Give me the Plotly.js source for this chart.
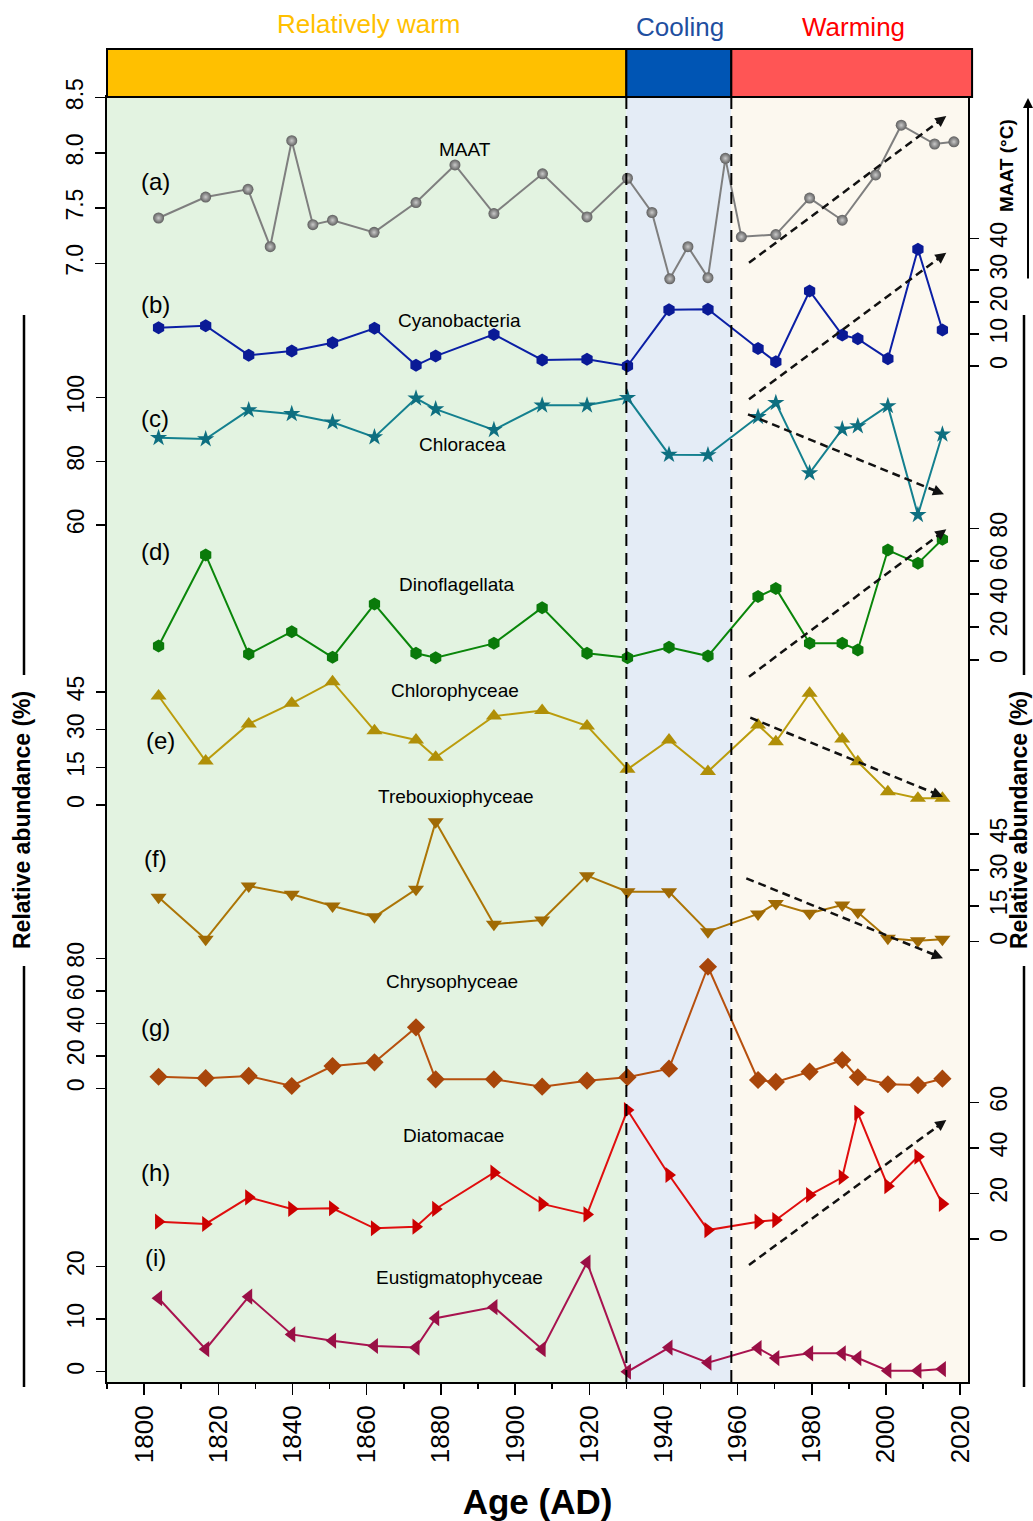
<!DOCTYPE html>
<html>
<head>
<meta charset="utf-8">
<script src="https://cdn.plot.ly/plotly-3.0.1.min.js"></script>
<style>html,body{margin:0;padding:0;background:#fff;}#chart{width:1033px;height:1521px;}</style>
</head>
<body>
<div id="chart"></div>
<script>
// ---------------- DATA ----------------
const periodNames = ['Relatively warm', 'Cooling', 'Warming'];
const periodBounds = [1790, 1930, 1958.3, 2023.2];

const maatYears = [1803.9,1816.6,1828.0,1834.0,1839.8,1845.5,1850.8,1862.0,1873.3,1883.8,1894.3,1907.4,1919.4,1930.3,1936.9,1941.7,1946.6,1952.0,1956.7,1961.0,1970.3,1979.4,1988.2,1997.2,2004.1,2013.1,2018.3];
const maat = [7.41,7.60,7.67,7.15,8.11,7.35,7.39,7.28,7.55,7.89,7.45,7.81,7.42,7.77,7.46,6.86,7.15,6.87,7.95,7.24,7.26,7.59,7.39,7.80,8.25,8.08,8.10];

const sampleYears = [1803.9,1816.6,1828.2,1839.8,1850.8,1862.1,1873.3,1878.6,1894.3,1907.3,1919.4,1930.3,1941.5,1952.0,1965.5,1970.3,1979.4,1988.2,1992.4,2000.5,2008.6,2015.2];
const cyanobacteria = [12.0,12.6,3.4,4.7,7.3,11.8,0.2,3.1,9.9,1.9,2.1,0.0,17.6,17.8,5.5,1.3,23.5,9.7,8.5,2.3,36.6,11.3];
const chloracea = [87.4,87.0,96.1,94.9,92.3,87.6,99.8,96.4,89.9,97.6,97.6,100,82.1,82.0,94.0,98.4,76.3,90.1,91.1,97.4,63.2,88.5];
const dinoflagellata = [8.5,63.8,3.6,17.2,1.6,34.0,4.1,1.4,10.1,31.8,4.1,1.4,7.7,2.4,38.5,43.5,10.1,10.1,6.1,66.8,58.7,73.3];
const chlorophyceae = [43.4,17.5,32.3,40.5,49.1,29.6,25.9,19.0,35.4,37.6,31.5,14.2,25.9,13.3,31.9,25.2,44.5,26.3,17.2,5.3,2.7,2.7];
const trebouxiophyceae = [18.6,1.0,23.3,19.8,14.9,10.4,21.9,50.1,7.3,9.1,27.6,20.9,20.9,4.2,11.6,16.0,11.9,15.3,12.3,1.4,0.4,1.0];
const chrysophyceae = [7.1,6.2,7.6,1.4,13.7,16.0,37.5,5.5,5.5,1.0,4.7,6.8,12.1,74.8,5.1,3.9,10.2,17.4,6.8,2.5,2.0,5.9];
const diatomacae = [7.6,6.6,18.3,13.2,13.5,4.7,5.4,13.2,29.1,15.4,10.8,56.6,28.1,3.9,7.6,8.3,19.3,27.1,55.4,23.2,36.1,15.4];
const eustigmatophyceae = [14.0,4.3,14.3,7.1,5.9,4.9,4.6,10.2,12.3,4.3,20.8,0.0,4.6,1.7,4.5,2.6,3.5,3.5,2.6,0.2,0.2,0.5];

const maatTicks = [7.0,7.5,8.0,8.5];
const maatTickText = ['7.0','7.5','8.0','8.5'];
const cyanoTicks = [0,10,20,30,40];
const chloraceaTicks = [60,80,100];
const dinoTicks = [0,20,40,60,80];
const chloroTicks = [0,15,30,45];
const trebouxTicks = [0,15,30,45];
const chrysoTicks = [0,20,40,60,80];
const diatomTicks = [0,20,40,60];
const eustigTicks = [0,10,20];
const xTickYears = [1800,1820,1840,1860,1880,1900,1920,1940,1960,1980,2000,2020];

// ---------------- GEOMETRY ----------------
const L = 107, R = 968, T = 97, B = 1382;
const xRange = [1790, 2022.1];
const FONT = 'Arial, "Liberation Sans", sans-serif';
function xp(px){ return (px - L) / (R - L); }
function yp(py){ return (B - py) / (B - T); }
function axisRange(v1, p1, v2, p2){
  const s = (v2 - v1) / (p2 - p1);
  return [v1 + (B - p1) * s, v1 + (T - p1) * s];
}

const axisSpecs = [
  {id:'y',  side:'left',  anchor:[8.5,97.6,7.0,263.3], ticks:maatTicks, text:maatTickText},
  {id:'y2', side:'right', anchor:[0,366,40,238.3],    ticks:cyanoTicks},
  {id:'y3', side:'left',  anchor:[100,397.7,60,525],  ticks:chloraceaTicks},
  {id:'y4', side:'right', anchor:[0,660,80,528.3],    ticks:dinoTicks},
  {id:'y5', side:'left',  anchor:[0,805,45,692],      ticks:chloroTicks},
  {id:'y6', side:'right', anchor:[0,941.7,45,834],    ticks:trebouxTicks},
  {id:'y7', side:'left',  anchor:[0,1088.3,80,958.3], ticks:chrysoTicks},
  {id:'y8', side:'right', anchor:[0,1239,60,1102.3],  ticks:diatomTicks},
  {id:'y9', side:'left',  anchor:[0,1371.7,20,1266.7],ticks:eustigTicks}
];

const layout = {
  width: 1033, height: 1521,
  margin: {l: L, r: 1033 - R, t: T, b: 1521 - B, pad: 0},
  paper_bgcolor: '#ffffff', plot_bgcolor: '#ffffff',
  showlegend: false,
  font: {family: FONT, color: '#000'},
  xaxis: {
    range: xRange, tickmode: 'array', tickvals: xTickYears, ticktext: xTickYears.map(String),
    tickangle: -90, ticks: 'outside', ticklen: 11, tickwidth: 1.5, tickcolor: '#000',
    minor: {dtick: 10, tick0: 1800, ticks: 'outside', ticklen: 5, tickwidth: 1.5, tickcolor: '#000'},
    showline: true, mirror: true, linecolor: '#000', linewidth: 2,
    showgrid: false, zeroline: false, fixedrange: true,
    tickfont: {family: FONT, size: 26, color: '#000'},
    title: {text: '<b>Age (AD)</b>', font: {family: FONT, size: 35, color: '#000'}, standoff: 27}
  },
  shapes: [], annotations: []
};

axisSpecs.forEach(function(s){
  const key = s.id === 'y' ? 'yaxis' : 'yaxis' + s.id.slice(1);
  const ax = {
    range: axisRange(s.anchor[0], s.anchor[1], s.anchor[2], s.anchor[3]),
    side: s.side, anchor: 'x',
    tickmode: 'array', tickvals: s.ticks, ticktext: s.text || s.ticks.map(String),
    tickangle: -90, ticks: 'outside', ticklen: 10, tickwidth: 1.5, tickcolor: '#000',
    tickfont: {family: FONT, size: 23, color: '#000'},
    showgrid: false, zeroline: false, fixedrange: true
  };
  if (s.side === 'left') ax.ticklabelstandoff = 3;
  if (s.id === 'y') { ax.showline = true; ax.mirror = true; ax.linecolor = '#000'; ax.linewidth = 2; }
  else { ax.overlaying = 'y'; ax.showline = false; }
  layout[key] = ax;
});

// background periods
const bgColors = ['#E3F3E1', '#E4ECF6', '#FCF8EF'];
for (let i = 0; i < 3; i++) {
  layout.shapes.push({type:'rect', layer:'below', xref:'x', yref:'paper',
    x0: Math.max(periodBounds[i], xRange[0]), x1: Math.min(periodBounds[i+1], xRange[1]), y0: 0, y1: 1,
    fillcolor: bgColors[i], line: {width: 0}});
}
// top bar
const barColors = ['#FFC000', '#0055B4', '#FF5555'];
const txtColors = ['#FFC000', '#1F4FA0', '#FF0000'];
const barTop = yp(49);
function xOfYear(y){ return (y - xRange[0]) / (xRange[1] - xRange[0]); }
for (let i = 0; i < 3; i++) {
  layout.shapes.push({type:'rect', xref:'paper', yref:'paper',
    x0: xOfYear(periodBounds[i]), x1: xOfYear(periodBounds[i+1]), y0: 1, y1: barTop,
    fillcolor: barColors[i], line: {color: '#000', width: 2}});
}
const labelX = [369, 680, 853];
const labelY = [24, 27, 27];
for (let i = 0; i < 3; i++) {
  layout.annotations.push({xref:'paper', yref:'paper', x: xp(labelX[i]), y: yp(labelY[i]),
    text: periodNames[i], showarrow: false, font: {family: FONT, size: 26, color: txtColors[i]},
    xanchor: 'center', yanchor: 'middle'});
}
// period dashed lines
[periodBounds[1], periodBounds[2]].forEach(function(yv){
  layout.shapes.push({type:'line', xref:'x', yref:'paper', x0: yv, x1: yv, y0: 0, y1: 1,
    line: {color: '#000', width: 2, dash: '12px,7px'}});
});

// trend arrows (pixel decorations)
const trends = [
  [749,262.7,946.3,116], [749,399.3,946.3,252.7], [748,414.3,944,494.3],
  [749,676.7,946.3,529.3], [750.3,717.7,943,796.7], [746.3,878.3,943,958.3],
  [749,1265,946.3,1120]
];
trends.forEach(function(t){
  const dx = t[0] - t[2], dy = t[1] - t[3];
  const len = Math.sqrt(dx*dx + dy*dy);
  const hx = t[2] + dx / len * 10, hy = t[3] + dy / len * 10;
  layout.shapes.push({type:'line', xref:'paper', yref:'paper', x0: xp(t[0]), y0: yp(t[1]), x1: xp(hx), y1: yp(hy),
    line: {color: '#111', width: 2.5, dash: '8px,5px'}});
  layout.annotations.push({xref:'paper', yref:'paper', x: xp(t[2]), y: yp(t[3]), text: '',
    showarrow: true, arrowhead: 2, arrowsize: 1, arrowwidth: 2.2, arrowcolor: '#111',
    ax: dx / len * 14, ay: dy / len * 14, standoff: 0});
});

// relative abundance labels & lines
[[24, 22], [1024, 1019]].forEach(function(p){
  layout.shapes.push({type:'line', xref:'paper', yref:'paper', x0: xp(p[0]), x1: xp(p[0]), y0: yp(315), y1: yp(675), line: {color:'#000', width: 2.5}});
  layout.shapes.push({type:'line', xref:'paper', yref:'paper', x0: xp(p[0]), x1: xp(p[0]), y0: yp(966), y1: yp(1387), line: {color:'#000', width: 2.5}});
  layout.annotations.push({xref:'paper', yref:'paper', x: xp(p[1]), y: yp(820), text: '<b>Relative abundance (%)</b>',
    textangle: -90, showarrow: false, font: {family: FONT, size: 23, color: '#000'}, xanchor: 'center', yanchor: 'middle'});
});
// MAAT (°C) label with arrow
layout.annotations.push({xref:'paper', yref:'paper', x: xp(1006), y: yp(166), text: '<b>MAAT (°C)</b>', textangle: -90,
  showarrow: false, font: {family: FONT, size: 19, color: '#000'}, xanchor: 'center', yanchor: 'middle'});
layout.annotations.push({xref:'paper', yref:'paper', x: xp(1028), y: yp(98), text: '', showarrow: true,
  arrowhead: 2, arrowsize: 1, arrowwidth: 2, arrowcolor: '#000', ax: 0, ay: 182, standoff: 0});

// panel letters and series names
const panelLetters = ['(a)','(b)','(c)','(d)','(e)','(f)','(g)','(h)','(i)'];
const letterPos = [[155,181],[155,304],[155,418],[155,551],[160,740],[155,858],[155,1027],[155,1172],[155,1257]];
panelLetters.forEach(function(t, i){
  layout.annotations.push({xref:'paper', yref:'paper', x: xp(letterPos[i][0]), y: yp(letterPos[i][1]), text: t,
    showarrow: false, font: {family: FONT, size: 24, color: '#000'}, xanchor: 'center', yanchor: 'middle'});
});
const seriesNames = ['MAAT','Cyanobacteria','Chloracea','Dinoflagellata','Chlorophyceae','Trebouxiophyceae','Chrysophyceae','Diatomacae','Eustigmatophyceae'];
const namePos = [[465,150],[459,320],[462,444],[457,584],[455,690],[456,796],[452,981],[453,1135],[459,1277]];
seriesNames.forEach(function(t, i){
  layout.annotations.push({xref:'paper', yref:'paper', x: xp(namePos[i][0]), y: yp(namePos[i][1]), text: t,
    showarrow: false, font: {family: FONT, size: 19, color: '#000'}, xanchor: 'center', yanchor: 'middle'});
});

// ---------------- TRACES ----------------
function series(x, y, yaxis, color, mcolor, symbol, size){
  return {x: x, y: y, yaxis: yaxis, type: 'scatter', mode: 'lines+markers', cliponaxis: false,
    line: {color: color, width: 2}, marker: {symbol: symbol, size: size, color: mcolor}, hoverinfo: 'x+y'};
}
const traces = [
  {x: maatYears, y: maat, yaxis: 'y', type: 'scatter', mode: 'lines+markers', cliponaxis: false,
   line: {color: '#7f7f7f', width: 2},
   marker: {symbol: 'circle', size: 11, color: '#5e5e5e', gradient: {type: 'radial', color: '#c9c9c9'}}},
  series(sampleYears, cyanobacteria, 'y2', '#0B1FA5', '#0A1A96', 'hexagon', 13),
  series(sampleYears, chloracea, 'y3', '#14808F', '#0E6F80', 'star', 13),
  series(sampleYears, dinoflagellata, 'y4', '#0A860A', '#0A7A0A', 'hexagon', 13),
  series(sampleYears, chlorophyceae, 'y5', '#BB9C0C', '#B08F08', 'triangle-up', 14),
  series(sampleYears, trebouxiophyceae, 'y6', '#AC7506', '#A06A04', 'triangle-down', 14),
  series(sampleYears, chrysophyceae, 'y7', '#B7500E', '#A8460A', 'diamond', 14),
  series(sampleYears, diatomacae, 'y8', '#E00E0E', '#CC0000', 'triangle-right', 14),
  series(sampleYears, eustigmatophyceae, 'y9', '#A8134F', '#990F45', 'triangle-left', 14)
];

Plotly.newPlot('chart', traces, layout, {staticPlot: true, displayModeBar: false});
</script>
</body>
</html>
